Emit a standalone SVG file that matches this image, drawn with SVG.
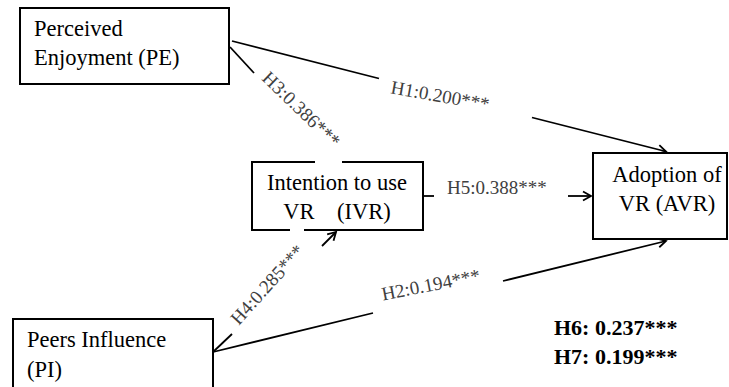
<svg xmlns="http://www.w3.org/2000/svg" width="729" height="387" viewBox="0 0 729 387">
<style>
.box{fill:#fff;stroke:#000;stroke-width:2}
.border{fill:none;stroke:#000;stroke-width:2}
.node{font-family:"Liberation Serif","Times New Roman",serif;font-size:22.5px;fill:#000}
.lbl{font-family:"Liberation Serif","Times New Roman",serif;font-size:19px;fill:#404040}
.res{font-family:"Liberation Serif","Times New Roman",serif;font-size:22px;font-weight:bold;fill:#000}
.ln{fill:none;stroke:#000;stroke-width:1.8}
</style>
<defs>
<marker id="arr" markerUnits="userSpaceOnUse" viewBox="-10 -6 12 12" refX="0" refY="0" markerWidth="12" markerHeight="12" orient="auto">
<path d="M-8,-4.5 L0,0 L-8,4.5" fill="none" stroke="#000" stroke-width="1.8"/>
</marker>
</defs>
<rect width="729" height="387" fill="#fff"/>
<g id="connectors">
<line class="ln" x1="232" y1="41" x2="379" y2="78.5"/>
<line class="ln" x1="532" y1="117.5" x2="666" y2="151.5" marker-end="url(#arr)"/>
<line class="ln" x1="230" y1="47" x2="254" y2="73"/>
<line class="ln" x1="213" y1="352" x2="373" y2="313"/>
<line class="ln" x1="503" y1="281" x2="666" y2="241" marker-end="url(#arr)"/>
<line class="ln" x1="213" y1="352" x2="232" y2="334"/>
<line class="ln" x1="322" y1="246" x2="336" y2="232" marker-end="url(#arr)"/>
<line class="ln" x1="423" y1="196" x2="434" y2="196"/>
<line class="ln" x1="568" y1="196" x2="591" y2="196" marker-end="url(#arr)"/>
<text class="lbl" text-anchor="middle" transform="translate(439,102) rotate(10)">H1:0.200***</text>
<text class="lbl" text-anchor="middle" transform="translate(297,114) rotate(44)">H3:0.386***</text>
<text class="lbl" text-anchor="middle" transform="translate(272,289) rotate(-48)">H4:0.285***</text>
<text class="lbl" text-anchor="middle" transform="translate(432,291) rotate(-11)">H2:0.194***</text>
<text class="lbl" x="447" y="194">H5:0.388***</text>
</g>
<g id="PE">
<rect class="box" x="20" y="8" width="209" height="76"/>
<text class="node" x="34" y="36">Perceived</text>
<text class="node" x="34" y="65">Enjoyment (PE)</text>
</g>
<g id="IVR">
<path class="border" d="M315,162 H252 V230 H290 M304,230 H423 V162 H342"/>
<text class="node" x="337" y="190" text-anchor="middle">Intention to use</text>
<text class="node" x="337" y="219" text-anchor="middle" style="white-space:pre">VR    (IVR)</text>
</g>
<g id="AVR">
<rect class="box" x="593" y="153" width="134" height="86"/>
<text class="node" x="667" y="182" text-anchor="middle">Adoption of</text>
<text class="node" x="667" y="211" text-anchor="middle">VR (AVR)</text>
</g>
<g id="PI">
<rect class="box" x="13" y="319" width="200" height="80"/>
<text class="node" x="27" y="347">Peers Influence</text>
<text class="node" x="27" y="377">(PI)</text>
</g>
<g id="results">
<text class="res" x="554" y="335">H6: 0.237***</text>
<text class="res" x="554" y="364">H7: 0.199***</text>
</g>
</svg>
